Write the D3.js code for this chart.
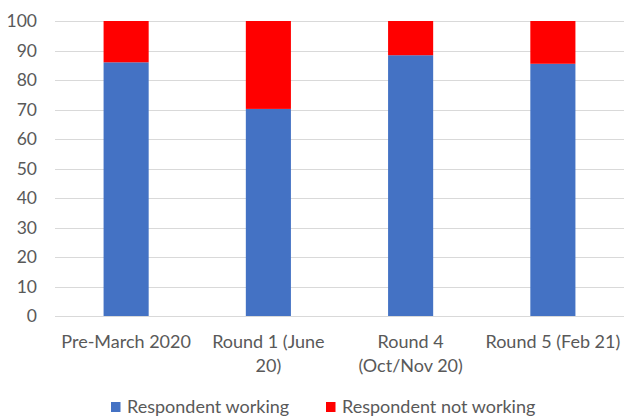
<!DOCTYPE html>
<html>
<head>
<meta charset="utf-8">
<script src="https://cdn.jsdelivr.net/npm/d3@7"></script>
<style>
  body { margin: 0; background: #fff; }
  text { font-family: Lato, "Open Sans", sans-serif; fill: #595959; }
</style>
</head>
<body>
<div id="chart"></div>
<script>
const categories = [["Pre-March 2020"], ["Round 1 (June", "20)"], ["Round 4", "(Oct/Nov 20)"], ["Round 5 (Feb 21)"]];
const working = [86, 70.2, 88.4, 85.5];
const notWorking = working.map(v => 100 - v);
const yTicks = [0, 10, 20, 30, 40, 50, 60, 70, 80, 90, 100];
const seriesNames = ["Respondent working", "Respondent not working"];
const colors = ["#4472C4", "#FF0000"];

const width = 624, height = 419;
const margin = {top: 21, right: 0, bottom: 103, left: 55};

const svg = d3.select("#chart").append("svg")
    .attr("width", width)
    .attr("height", height);

const x = d3.scaleBand()
    .domain(d3.range(categories.length))
    .range([margin.left, width - margin.right])
    .padding(0);

const y = d3.scaleLinear()
    .domain([0, 100])
    .range([height - margin.bottom, margin.top]);

const barW = x.bandwidth() * 0.317;

// gridlines
svg.append("g")
    .selectAll("line")
    .data(yTicks)
    .join("line")
    .attr("x1", margin.left)
    .attr("x2", width - margin.right)
    .attr("y1", d => Math.round(y(d)) + 0.5)
    .attr("y2", d => Math.round(y(d)) + 0.5)
    .attr("stroke", "#d9d9d9")
    .attr("stroke-width", 1);

// y tick labels
svg.append("g")
    .selectAll("text")
    .data(yTicks)
    .join("text")
    .attr("x", 37)
    .attr("y", d => y(d))
    .attr("dy", "0.35em")
    .attr("text-anchor", "end")
    .style("font-size", "17.5px")
    .text(d => d);

// stacked bars
const stackData = categories.map((c, i) => ({i: i, w: working[i], n: notWorking[i]}));
const stack = d3.stack().keys(["w", "n"])(stackData);

svg.append("g")
    .selectAll("g")
    .data(stack)
    .join("g")
    .attr("fill", (d, k) => colors[k])
    .selectAll("rect")
    .data(d => d)
    .join("rect")
    .attr("x", d => x(d.data.i) + (x.bandwidth() - barW) / 2)
    .attr("width", barW)
    .attr("y", d => y(d[1]))
    .attr("height", d => y(d[0]) - y(d[1]));

// category labels
const catG = svg.append("g");
categories.forEach((lines, i) => {
    const t = catG.append("text")
        .attr("text-anchor", "middle")
        .style("font-size", "18px");
    lines.forEach((line, j) => {
        t.append("tspan")
            .attr("x", x(i) + x.bandwidth() / 2)
            .attr("y", 348 + j * 24)
            .text(line);
    });
});

// legend
const legendX = [111, 326];
const legend = svg.append("g");
seriesNames.forEach((name, k) => {
    legend.append("rect")
        .attr("x", legendX[k])
        .attr("y", 402)
        .attr("width", 9.5)
        .attr("height", 10)
        .attr("fill", colors[k]);
    legend.append("text")
        .attr("x", legendX[k] + 16)
        .attr("y", 413)
        .style("font-size", "18px")
        .text(name);
});
</script>
</body>
</html>
